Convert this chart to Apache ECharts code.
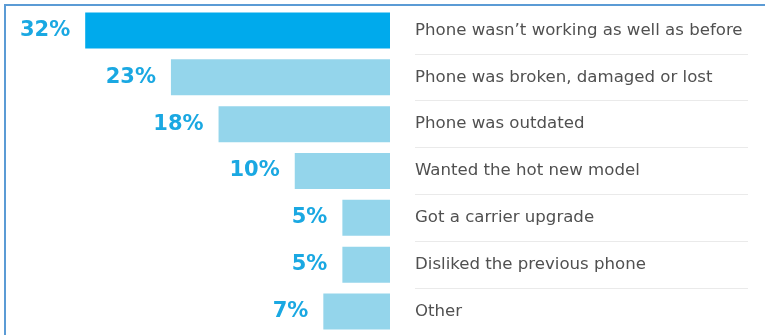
<!DOCTYPE html>
<html>
<head>
<meta charset="utf-8">
<script src="https://cdn.jsdelivr.net/npm/echarts@6/dist/echarts.min.js"></script>
<style>
html,body{margin:0;padding:0;background:#fff;}
#c{width:765px;height:335px;}
</style>
</head>
<body>
<div id="c"></div>
<script>
const categories = [
  "Phone wasn\u2019t working as well as before",
  "Phone was broken, damaged or lost",
  "Phone was outdated",
  "Wanted the hot new model",
  "Got a carrier upgrade",
  "Disliked the previous phone",
  "Other"
];
const values = [32, 23, 18, 10, 5, 5, 7];

const HIGHLIGHT = '#00aaec';
const BASE = '#94d5eb';

const chart = echarts.init(document.getElementById('c'), null, {renderer: 'canvas'});
chart.setOption({
  backgroundColor: '#fff',
  animation: false,
  graphic: [{
    type: 'rect',
    shape: {x: 5, y: 5, width: 900, height: 500},
    style: {fill: 'none', stroke: '#5b9bd5', lineWidth: 2},
    z: 100
  }],
  grid: [
    {left: 9, right: 375, top: 7, height: 331},
    {left: 415, right: 17, top: 7, height: 331}
  ],
  xAxis: [
    {gridIndex: 0, type: 'value', min: 0, max: 40, inverse: true, show: false},
    {gridIndex: 1, type: 'value', min: 0, max: 1, show: false}
  ],
  yAxis: [
    {gridIndex: 0, type: 'category', data: categories, inverse: true, show: false},
    {
      gridIndex: 1, type: 'category', data: categories, inverse: true,
      axisLine: {show: false}, axisTick: {show: false},
      axisLabel: {
        inside: true, margin: 0, align: 'left',
        fontFamily: 'DejaVu Sans', fontSize: 16.6, color: '#505050'
      },
      splitLine: {
        show: true,
        interval: function (i) { return i > 0; },
        lineStyle: {color: '#eaeaea', width: 1}
      }
    }
  ],
  series: [{
    type: 'bar',
    xAxisIndex: 0, yAxisIndex: 0,
    barWidth: 36,
    data: values.map((v, i) => ({value: v, itemStyle: {color: i === 0 ? HIGHLIGHT : BASE}})),
    label: {
      show: true, position: 'left', distance: 15,
      formatter: '{c}%',
      fontFamily: 'DejaVu Sans', fontWeight: 'bold', fontSize: 21, color: '#1aa8e2'
    }
  }]
});
</script>
</body>
</html>
